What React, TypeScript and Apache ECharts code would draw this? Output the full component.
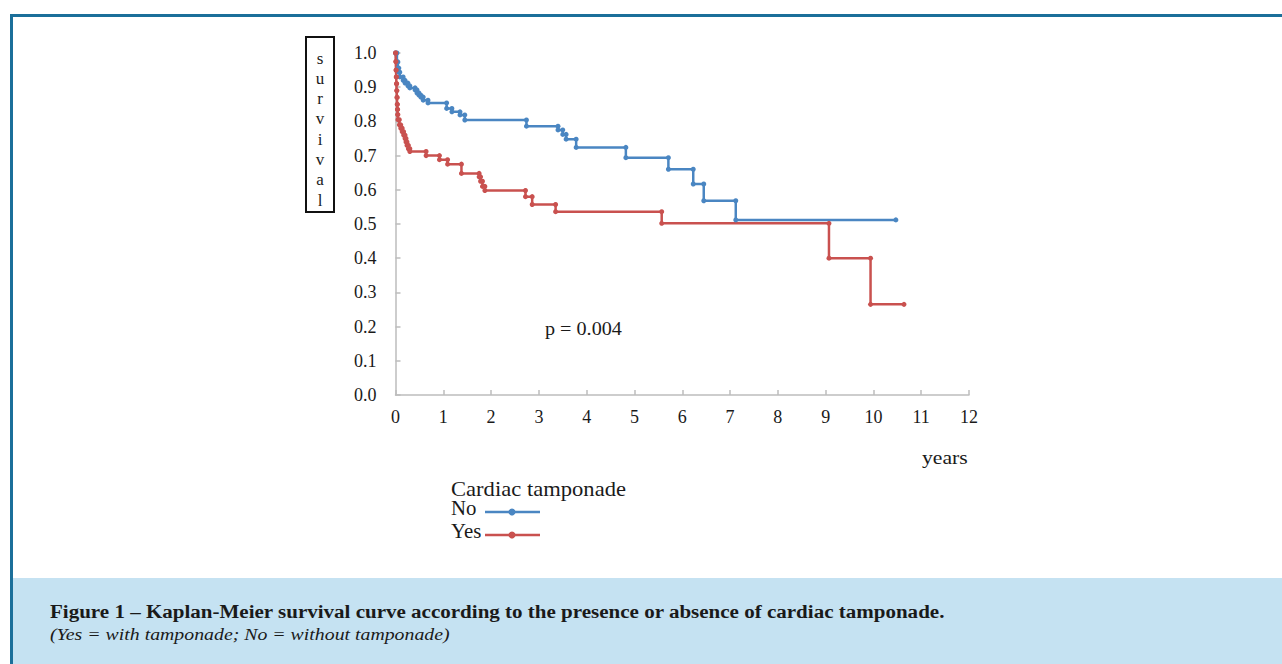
import React, { useEffect, useRef } from "react";
import * as echarts from "echarts";

// Kaplan-Meier data (time in years, survival proportion)
const noTimes = [0, 0.03, 0.05, 0.07, 0.09, 0.16, 0.2, 0.26, 0.3, 0.41, 0.45, 0.49, 0.53, 0.58, 0.68, 1.07, 1.18, 1.35, 1.45, 2.74, 3.4, 3.5, 3.57, 3.78, 4.82, 5.71, 6.23, 6.45, 7.12, 10.47];
const noSurv = [1.0, 0.974, 0.956, 0.944, 0.93, 0.92, 0.912, 0.904, 0.898, 0.892, 0.883, 0.877, 0.871, 0.862, 0.854, 0.838, 0.828, 0.819, 0.804, 0.786, 0.775, 0.762, 0.748, 0.724, 0.694, 0.66, 0.617, 0.568, 0.512, 0.512];

const yesTimes = [0, 0.005, 0.01, 0.015, 0.02, 0.025, 0.03, 0.035, 0.04, 0.045, 0.05, 0.08, 0.11, 0.14, 0.17, 0.2, 0.22, 0.24, 0.27, 0.3, 0.64, 0.92, 1.09, 1.38, 1.75, 1.78, 1.82, 1.87, 2.72, 2.86, 3.35, 5.57, 9.07, 9.94, 10.64];
const yesSurv = [1.0, 0.975, 0.95, 0.93, 0.91, 0.89, 0.87, 0.85, 0.835, 0.82, 0.805, 0.79, 0.78, 0.77, 0.76, 0.75, 0.74, 0.73, 0.72, 0.712, 0.7, 0.688, 0.675, 0.648, 0.638, 0.625, 0.61, 0.598, 0.58, 0.557, 0.536, 0.502, 0.4, 0.265, 0.265];

const seriesNames = ["No", "Yes"];
const colors = ["#4a86c2", "#c9514f"];
const yAxisLetters = ["s", "u", "r", "v", "i", "v", "a", "l"];
const legendTitle = "Cardiac tamponade";
const pValueText = "p = 0.004";
const xAxisTitle = "years";
const captionTitle = "Figure 1 – Kaplan-Meier survival curve according to the presence or absence of cardiac tamponade.";
const captionNote = "(Yes = with tamponade; No = without tamponade)";

const FONT = "'Liberation Serif', 'DejaVu Serif', serif";

function stepPoints(times: number[], surv: number[]) {
  const pts: number[][] = [[times[0], surv[0]]];
  for (let i = 1; i < times.length; i++) {
    if (surv[i] !== surv[i - 1]) {
      pts.push([times[i], surv[i - 1]]);
    }
    pts.push([times[i], surv[i]]);
  }
  return pts;
}

function txt(text: string, x: number, y: number, font: string, scaleX = 1, extra: any = {}) {
  return {
    type: "text", x, y, scaleX,
    style: { text, fill: "#1a1a1a", font, align: "left", verticalAlign: "middle", ...extra },
  };
}

export default function App() {
  const ref = useRef<HTMLDivElement>(null);
  useEffect(() => {
    if (!ref.current) return;
    const chart = echarts.init(ref.current, null, { renderer: "svg" });
    const textColor = "#1a1a1a";
    const graphic: any[] = [
      { type: "rect", shape: { x: 13, y: 578, width: 1269, height: 86 }, style: { fill: "#c5e2f2" }, silent: true },
      { type: "rect", shape: { x: 10, y: 14, width: 1272, height: 3 }, style: { fill: "#1b6f9a" }, silent: true },
      { type: "rect", shape: { x: 10, y: 14, width: 3, height: 650 }, style: { fill: "#1b6f9a" }, silent: true },
      { type: "rect", shape: { x: 306, y: 37, width: 28, height: 175 }, style: { fill: "none", stroke: "#111", lineWidth: 2 } },
      ...yAxisLetters.map((ch, i) => ({
        type: "text", x: 320, y: 58 + i * 20.3,
        style: { text: ch, fill: textColor, font: `17px ${FONT}`, align: "center", verticalAlign: "middle" },
      })),
      txt(pValueText, 545, 329, `18px ${FONT}`, 1.12),
      txt(xAxisTitle, 922, 457, `19px ${FONT}`, 1.14),
      txt(legendTitle, 451, 489, `20px ${FONT}`, 1.13),
      ...seriesNames.map((nm, i) => ({
        type: "group",
        children: [
          txt(nm, 451, 508 + i * 23, `20px ${FONT}`, 1.04),
          { type: "line", shape: { x1: 485, y1: 512 + i * 23, x2: 540, y2: 512 + i * 23 }, style: { stroke: colors[i], lineWidth: 2.5 } },
          { type: "circle", shape: { cx: 512, cy: 512 + i * 23, r: 3.5 }, style: { fill: colors[i] } },
        ],
      })),
      txt(captionTitle, 50, 612, `bold 18px ${FONT}`, 1.168),
      txt(captionNote, 50, 634, `italic 17px ${FONT}`, 1.166),
    ];

    const axisLabelStyle = { color: textColor, fontFamily: FONT, fontSize: 18 };
    chart.setOption({
      animation: false,
      backgroundColor: "#ffffff",
      grid: { left: 395.5, top: 53, width: 573.5, height: 342, containLabel: false },
      xAxis: {
        type: "value", min: 0, max: 12, interval: 1,
        axisLine: { show: true, lineStyle: { color: "#bdbdbd", width: 1.5 } },
        axisTick: { show: true, inside: true, length: 5, lineStyle: { color: "#bdbdbd", width: 1.5 } },
        axisLabel: { ...axisLabelStyle, margin: 13 },
        splitLine: { show: false },
      },
      yAxis: {
        type: "value", min: 0, max: 1, interval: 0.1,
        axisLine: { show: true, lineStyle: { color: "#bdbdbd", width: 1.5 } },
        axisTick: { show: true, inside: true, length: 5, lineStyle: { color: "#bdbdbd", width: 1.5 } },
        axisLabel: { ...axisLabelStyle, margin: 19, formatter: (v: number) => v.toFixed(1) },
        splitLine: { show: false },
      },
      series: [
        {
          name: seriesNames[0], type: "line", data: stepPoints(noTimes, noSurv),
          symbol: "circle", symbolSize: 5, showSymbol: true,
          lineStyle: { color: colors[0], width: 2.5 }, itemStyle: { color: colors[0] },
        },
        {
          name: seriesNames[1], type: "line", data: stepPoints(yesTimes, yesSurv),
          symbol: "circle", symbolSize: 5, showSymbol: true,
          lineStyle: { color: colors[1], width: 2.5 }, itemStyle: { color: colors[1] },
        },
      ],
      graphic,
    });
    return () => chart.dispose();
  }, []);
  return <div ref={ref} style={{ position: "absolute", left: 0, top: 0, width: 1282, height: 664 }} />;
}
